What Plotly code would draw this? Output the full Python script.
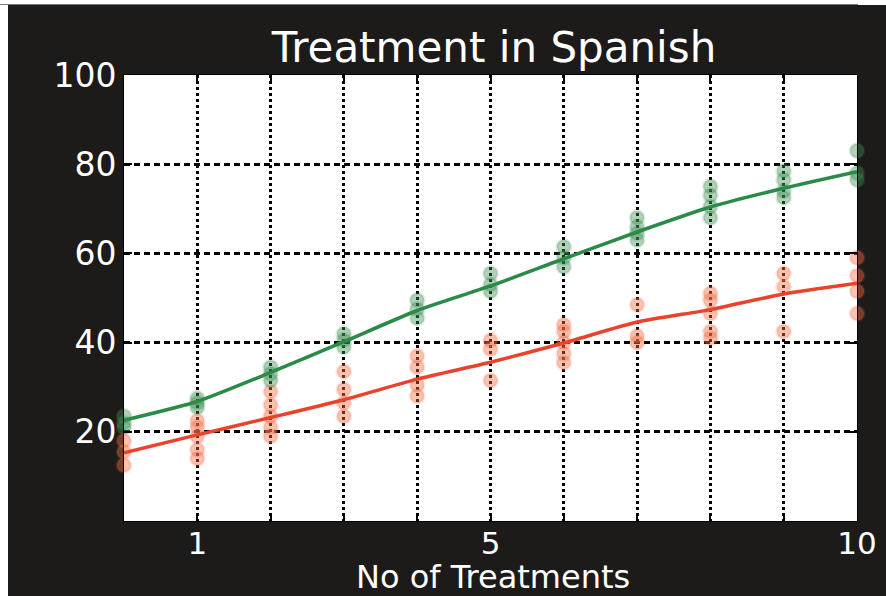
import plotly.graph_objects as go

# Number of treatments (x) and observed scores per treatment count
treatments = list(range(0, 11))

spanish_green_obs = [
    [23.5, 22.0, 21.0],
    [27.5, 26.5, 25.5],
    [34.5, 33.0, 31.5],
    [42.0, 40.5, 39.0],
    [49.5, 47.5, 45.5],
    [55.5, 53.0, 51.5],
    [61.5, 59.0, 57.0],
    [68.0, 66.0, 64.5, 63.0],
    [75.0, 73.0, 70.5, 68.0],
    [78.5, 76.5, 74.0, 72.5],
    [83.0, 78.0, 76.5],
]

spanish_red_obs = [
    [18.0, 15.5, 12.5],
    [22.5, 21.0, 19.0, 16.0, 14.0],
    [29.0, 26.0, 23.5, 21.0, 19.0],
    [33.5, 29.5, 26.5, 23.5],
    [37.0, 34.5, 30.5, 28.0],
    [40.5, 38.5, 31.5],
    [44.0, 42.5, 40.0, 37.5, 35.5],
    [48.5, 41.5, 40.0],
    [51.0, 49.5, 46.5, 42.5, 41.0],
    [55.5, 52.5, 42.5],
    [59.0, 55.0, 51.5, 46.5],
]

# Fitted trend values at each treatment count
green_fit = [22.6, 26.8, 33.3, 40.2, 47.2, 52.7, 58.8, 64.8, 70.4, 74.6, 78.3]
red_fit = [15.3, 19.3, 23.2, 27.2, 31.8, 35.6, 39.9, 44.6, 47.4, 50.9, 53.3]

x_tickvals = list(range(0, 11))
x_ticktext = ["", "1", "", "", "", "5", "", "", "", "", "10"]
y_tickvals = [0, 20, 40, 60, 80, 100]
y_ticktext = ["", "20", "40", "60", "80", "100"]

GREEN = "#2b8a47"
RED = "#e9432c"
BG = "#1d1a1a"
FONT = "DejaVu Sans"

W, H = 886, 596
L, R, T, B = 124, 29, 75, 75


def flatten(groups):
    xs, ys = [], []
    for x, vals in zip(treatments, groups):
        for v in vals:
            xs.append(x)
            ys.append(v)
    return xs, ys


gx, gy = flatten(spanish_green_obs)
rx, ry = flatten(spanish_red_obs)

fig = go.Figure()

fig.add_trace(go.Scatter(
    x=rx, y=ry, mode="markers", cliponaxis=False, showlegend=False,
    marker=dict(size=14, color="rgba(240,110,70,0.42)",
                line=dict(width=3, color="rgba(240,110,70,0.15)")),
))
fig.add_trace(go.Scatter(
    x=gx, y=gy, mode="markers", cliponaxis=False, showlegend=False,
    marker=dict(size=14, color="rgba(60,140,80,0.40)",
                line=dict(width=3, color="rgba(60,140,80,0.15)")),
))
fig.add_trace(go.Scatter(
    x=treatments, y=red_fit, mode="lines", cliponaxis=False, showlegend=False,
    line=dict(color=RED, width=3.5, shape="spline", smoothing=0.6),
))
fig.add_trace(go.Scatter(
    x=treatments, y=green_fit, mode="lines", cliponaxis=False, showlegend=False,
    line=dict(color=GREEN, width=3.5, shape="spline", smoothing=0.6),
))

pw = W - L - R
ph = H - T - B


def px_x(p):
    return (p - L) / pw


def px_y(p):
    return (H - B - p) / ph


# white page margins around the dark figure panel
shapes = [
    dict(type="rect", xref="paper", yref="paper", layer="above",
         x0=px_x(0), x1=px_x(8), y0=px_y(H), y1=px_y(0),
         fillcolor="white", line=dict(width=0)),
    dict(type="rect", xref="paper", yref="paper", layer="above",
         x0=px_x(0), x1=px_x(W), y0=px_y(5), y1=px_y(0),
         fillcolor="white", line=dict(width=0)),
    dict(type="line", xref="paper", yref="paper", layer="above",
         x0=px_x(0), x1=px_x(858), y0=px_y(4.5), y1=px_y(4.5),
         line=dict(color="#777777", width=1)),
]

fig.update_layout(
    width=W, height=H,
    margin=dict(l=L, r=R, t=T, b=B, pad=0, autoexpand=False),
    paper_bgcolor=BG,
    plot_bgcolor="white",
    font=dict(family=FONT, color="white"),
    title=dict(text="Treatment in Spanish", x=px_x(494), xref="paper",
               xanchor="center", y=1 - 47 / H, yref="container",
               yanchor="middle", font=dict(size=42, color="white", family=FONT)),
    shapes=shapes,
    annotations=[
        dict(text="No of Treatments", xref="paper", yref="paper",
             x=px_x(493), y=px_y(577), xanchor="center", yanchor="middle",
             showarrow=False, font=dict(size=32, color="white", family=FONT)),
    ],
    showlegend=False,
)

fig.update_xaxes(
    range=[0, 10], tickvals=x_tickvals, ticktext=x_ticktext,
    showgrid=True, gridcolor="black", gridwidth=3, griddash="dot",
    ticks="inside", ticklen=8, tickwidth=2, tickcolor="black",
    mirror="ticks", showline=True, linecolor="black", linewidth=1,
    zeroline=False, automargin=False, ticklabelstandoff=-5,
    tickfont=dict(size=31, color="white", family=FONT),
)
fig.update_yaxes(
    range=[0, 100], tickvals=y_tickvals, ticktext=y_ticktext,
    showgrid=True, gridcolor="black", gridwidth=3, griddash="6px,4px",
    ticks="inside", ticklen=8, tickwidth=2, tickcolor="black",
    mirror="ticks", showline=True, linecolor="black", linewidth=1,
    zeroline=False, automargin=False,
    tickfont=dict(size=33, color="white", family=FONT),
)

fig.write_html("out.html")
